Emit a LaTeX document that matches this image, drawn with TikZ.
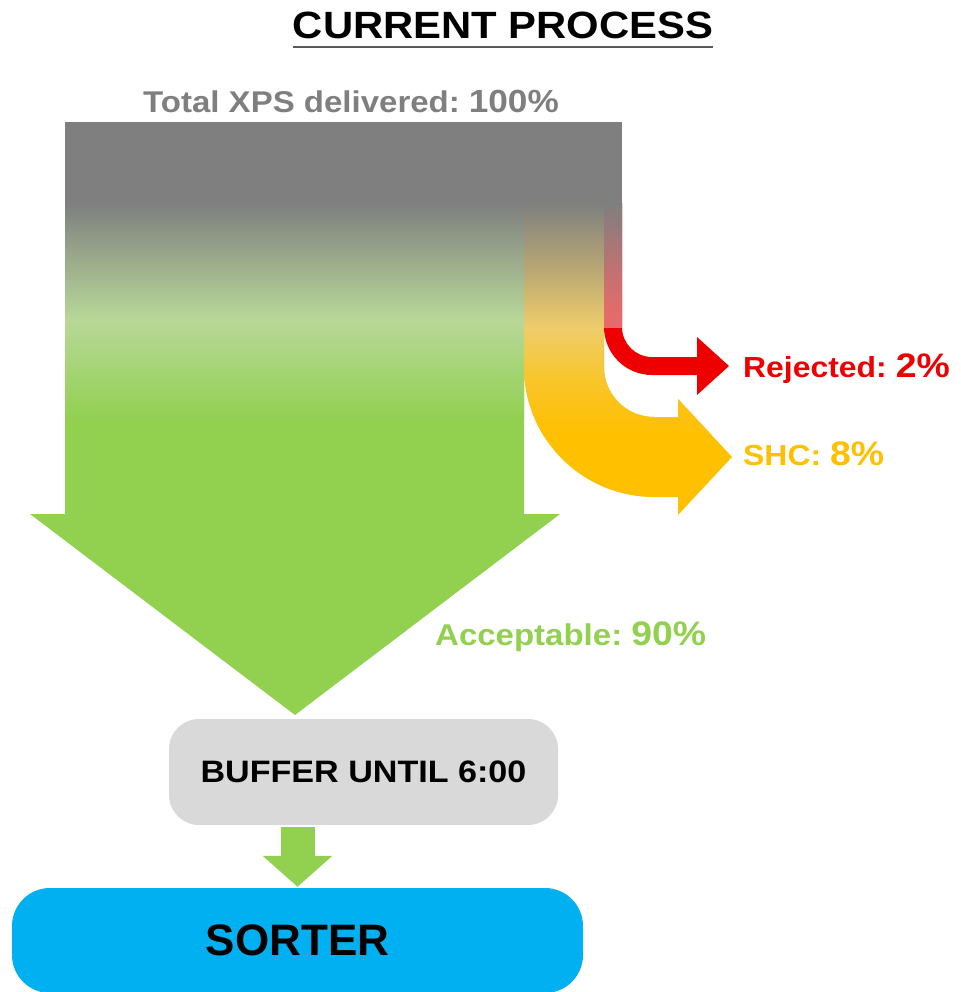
\documentclass[tikz,border=0pt]{standalone}
\usepackage{fontspec}
\setmainfont{Liberation Sans}[FakeStretch=1.1]
\newfontfamily\plainfont{Liberation Sans}
\usepackage{tikz}
\usetikzlibrary{positioning,arrows.meta}

\definecolor{flowgray}{HTML}{7F7F7F}
\definecolor{accgreen}{HTML}{92D050}
\definecolor{shcorange}{HTML}{FFC000}
\definecolor{rejred}{HTML}{EE0000}
\definecolor{buffgray}{HTML}{D9D9D9}
\definecolor{sortblue}{HTML}{00B0F0}
\definecolor{palegr}{HTML}{B8D898}
\definecolor{paleor}{HTML}{EECD6A}
\definecolor{palerd}{HTML}{E86A6A}

\pgfdeclareverticalshading{greenfade}{100bp}{color(0bp)=(accgreen); color(25bp)=(accgreen);
  color(32bp)=(accgreen!70!palegr); color(48bp)=(palegr); color(63bp)=(flowgray!55!palegr);
  color(75bp)=(flowgray); color(100bp)=(flowgray)}
\pgfdeclareverticalshading{orangefade}{100bp}{color(0bp)=(shcorange); color(25bp)=(shcorange);
  color(37bp)=(shcorange!60!paleor); color(48bp)=(paleor); color(60bp)=(flowgray!45!paleor);
  color(75bp)=(flowgray); color(100bp)=(flowgray)}
\pgfdeclareverticalshading{redfade}{100bp}{color(0bp)=(palerd); color(25bp)=(palerd);
  color(35bp)=(palerd!90!flowgray); color(51bp)=(palerd!55!flowgray);
  color(75bp)=(flowgray); color(100bp)=(flowgray)}

\begin{document}
\begin{tikzpicture}[x=1pt,y=1pt,
  lbl/.style={anchor=base west,inner sep=0pt,font=\bfseries},
  procbox/.style={inner sep=0pt,rounded corners=#1,font=\bfseries}]
\useasboundingbox (0,0) rectangle (960,-992);

% acceptable flow
\begin{scope}
  \clip (65,-203) -- (65,-514) -- (30,-514) -- (295,-715) -- (560,-514) -- (524,-514) -- (524,-203) -- cycle;
  \fill[accgreen] (0,-180) rectangle (760,-720);
  \shade[shading=greenfade] (60,-203) rectangle (530,-420);
\end{scope}
% SHC flow
\begin{scope}
  \clip (524,-203) -- (524,-367) arc[start angle=180,end angle=270,radius=130] -- (678,-497) -- (678,-515)
    -- (732,-457) -- (678,-399) -- (678,-417) -- (654,-417) arc[start angle=270,end angle=180,radius=50]
    -- (604,-203) -- cycle;
  \fill[shcorange] (500,-180) rectangle (760,-540);
  \shade[shading=orangefade] (520,-203) rectangle (740,-435);
\end{scope}
% rejected flow
\begin{scope}
  \clip (604,-203) -- (604,-327) arc[start angle=180,end angle=270,radius=48] -- (697,-375) -- (697,-395)
    -- (729,-366) -- (697,-337) -- (697,-357) -- (652,-357) arc[start angle=270,end angle=180,radius=30]
    -- (622,-203) -- cycle;
  \fill[rejred] (590,-180) rectangle (760,-420);
  \shade[shading=redfade] (600,-203) rectangle (630,-327);
\end{scope}
\fill[flowgray] (65,-122) rectangle (622,-204);

\node[anchor=base,inner sep=0pt,font=\fontsize{38}{40}\selectfont\bfseries] (title) at (503,-39) {CURRENT PROCESS};
\draw[line width=2pt,black!65] ([yshift=-8pt]title.base west) -- ([yshift=-8pt]title.base east);

\node[lbl,text=flowgray] (total) at (143,-113) {{\fontsize{30}{32}\selectfont Total XPS delivered:}\hspace{9pt}{\fontsize{32}{34}\selectfont 100\%}};
\node[lbl,text=rejred] (rejected) at (743,-377) {{\fontsize{29}{31}\selectfont Rejected:}\hspace{9pt}{\fontsize{34}{36}\selectfont 2\%}};
\node[lbl,text=shcorange] (shc) at (743,-465) {{\fontsize{29}{31}\selectfont SHC:}\hspace{9pt}{\fontsize{34}{36}\selectfont 8\%}};
\node[lbl,text=accgreen] (acceptable) at (435,-645) {{\fontsize{30}{32}\selectfont Acceptable:}\hspace{9pt}{\fontsize{34}{36}\selectfont 90\%}};

\node[procbox=30pt,fill=buffgray,minimum width=389pt,minimum height=106pt] (buffer) at (363.5,-772)
  {\fontsize{31}{33}\selectfont BUFFER UNTIL 6:00};
\node[procbox=38pt,fill=sortblue,minimum width=571pt,minimum height=105pt] (sorter) at (297.5,-940.5)
  {\plainfont\bfseries\fontsize{44}{46}\selectfont SORTER};

\draw[accgreen,line width=34pt,-{Triangle[width=68pt,length=31pt]}] ([yshift=-2pt]buffer.south -| sorter.north) -- ([yshift=1pt]sorter.north);
\end{tikzpicture}
\end{document}
